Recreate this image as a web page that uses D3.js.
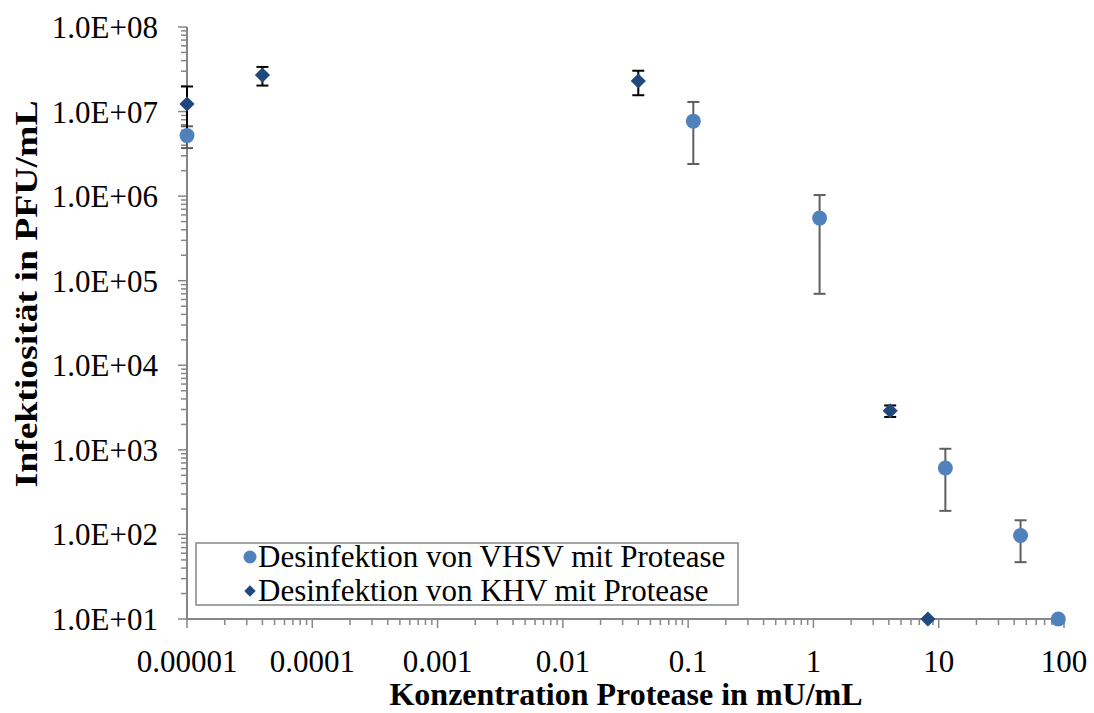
<!DOCTYPE html>
<html><head><meta charset="utf-8">
<script src="https://cdn.jsdelivr.net/npm/d3@7"></script>
<style>body{margin:0;background:#fff}svg{display:block}text{font-family:"Liberation Serif","Times New Roman",serif}</style>
</head><body><svg id="c" width="1094" height="713"></svg>
<script>
const vhsvX = [0.00001, 0.11, 1.12, 11.3, 45, 90];
const vhsvY = [5.2e6, 7.7e6, 5.5e5, 610, 97, 10];
const vhsvErr = [1.5e6, 5.3e6, 4.8e5, 420, 50, 0];
const khvX = [0.00001, 0.00004, 0.04, 4.1, 8.2];
const khvY = [1.23e7, 2.7e7, 2.3e7, 2.9e3, 10];
const khvErr = [7.5e6, 6.7e6, 7.4e6, 450, 0];
const xTicks = [0.00001, 0.0001, 0.001, 0.01, 0.1, 1, 10, 100];
const xTickLabels = ["0.00001", "0.0001", "0.001", "0.01", "0.1", "1", "10", "100"];
const yTicks = [1e1, 1e2, 1e3, 1e4, 1e5, 1e6, 1e7, 1e8];
const yTickLabels = ["1.0E+01", "1.0E+02", "1.0E+03", "1.0E+04", "1.0E+05", "1.0E+06", "1.0E+07", "1.0E+08"];
const seriesNames = ["Desinfektion von VHSV mit Protease", "Desinfektion von KHV mit Protease"];

const svg = d3.select("#c");
const L = 187, R = 1064, T = 27, B = 619;
const x = d3.scaleLog().domain([1e-5, 100]).range([L, R]);
const y = d3.scaleLog().domain([10, 1e8]).range([B, T]);
const axisCol = "#868686";

const minorX = [], minorY = [];
for (let e = -5; e < 2; e++) for (let m = 2; m <= 9; m++) minorX.push(m * Math.pow(10, e));
for (let e = 1; e < 8; e++) for (let m = 2; m <= 9; m++) minorY.push(m * Math.pow(10, e));

const g = svg.append("g");
g.append("line").attr("x1", L).attr("x2", L).attr("y1", T).attr("y2", B).attr("stroke", axisCol).attr("stroke-width", 2);
g.selectAll(".ymin").data(minorY).enter().append("line")
  .attr("x1", L - 6).attr("x2", L).attr("y1", d => y(d)).attr("y2", d => y(d)).attr("stroke", axisCol).attr("stroke-width", 1.5);
g.selectAll(".ymaj").data(yTicks).enter().append("line")
  .attr("x1", L - 9).attr("x2", L).attr("y1", d => y(d)).attr("y2", d => y(d)).attr("stroke", axisCol).attr("stroke-width", 1.5);
g.selectAll(".ylab").data(yTicks).enter().append("text")
  .attr("x", 158).attr("y", d => y(d) + 11).attr("text-anchor", "end").attr("font-size", 31).attr("fill", "#000")
  .text((d, i) => yTickLabels[i]);
g.append("line").attr("x1", L).attr("x2", R).attr("y1", B).attr("y2", B).attr("stroke", axisCol).attr("stroke-width", 2);
g.selectAll(".xmin").data(minorX).enter().append("line")
  .attr("x1", d => x(d)).attr("x2", d => x(d)).attr("y1", B).attr("y2", B + 6).attr("stroke", axisCol).attr("stroke-width", 1.5);
g.selectAll(".xmaj").data(xTicks).enter().append("line")
  .attr("x1", d => x(d)).attr("x2", d => x(d)).attr("y1", B).attr("y2", B + 9).attr("stroke", axisCol).attr("stroke-width", 1.5);
g.selectAll(".xlab").data(xTicks).enter().append("text")
  .attr("x", d => x(d)).attr("y", 672).attr("text-anchor", "middle").attr("font-size", 31).attr("fill", "#000")
  .text((d, i) => xTickLabels[i]);

svg.append("text").attr("x", 626).attr("y", 705).attr("text-anchor", "middle").attr("font-size", 32).attr("font-weight", "bold")
  .text("Konzentration Protease in mU/mL");
svg.append("text").attr("transform", "translate(37,294) rotate(-90)").attr("text-anchor", "middle").attr("font-size", 32).attr("font-weight", "bold")
  .attr("textLength", 387).attr("lengthAdjust", "spacingAndGlyphs")
  .text("Infektiosität in PFU/mL");

function errBars(xs, ys, es, col) {
  const d = xs.map((v, i) => ({x: v, y: ys[i], e: es[i]})).filter(p => p.e > 0);
  const eg = svg.append("g").attr("stroke", col).attr("stroke-width", 2);
  d.forEach(p => {
    const hi = y(p.y + p.e), lo = y(Math.max(p.y - p.e, 1e-3));
    const cx = x(p.x);
    eg.append("line").attr("x1", cx).attr("x2", cx).attr("y1", hi).attr("y2", lo);
    eg.append("line").attr("x1", cx - 6).attr("x2", cx + 6).attr("y1", hi).attr("y2", hi);
    eg.append("line").attr("x1", cx - 6).attr("x2", cx + 6).attr("y1", lo).attr("y2", lo);
  });
}
errBars(vhsvX, vhsvY, vhsvErr, "#5f5f5f");
errBars(khvX, khvY, khvErr, "#000");

const vCol = "#4F81BD", kCol = "#1F497D";
svg.append("g").selectAll("circle").data(vhsvX.map((v, i) => [v, vhsvY[i]])).enter().append("circle")
  .attr("cx", d => x(d[0])).attr("cy", d => y(d[1])).attr("r", 7.5).attr("fill", vCol);
const diamond = d3.symbol().type(d3.symbolSquare).size(115);
svg.append("g").selectAll("path").data(khvX.map((v, i) => [v, khvY[i]])).enter().append("path")
  .attr("d", diamond).attr("transform", d => `translate(${x(d[0])},${y(d[1])}) rotate(45)`).attr("fill", kCol);

const lg = svg.append("g");
lg.append("rect").attr("x", 196).attr("y", 543).attr("width", 542).attr("height", 62).attr("fill", "#fff").attr("stroke", axisCol).attr("stroke-width", 1.5);
lg.append("circle").attr("cx", 250).attr("cy", 557).attr("r", 6.5).attr("fill", vCol);
lg.append("path").attr("d", d3.symbol().type(d3.symbolSquare).size(65)).attr("transform", "translate(250,591) rotate(45)").attr("fill", kCol);
lg.append("text").attr("x", 258).attr("y", 567).attr("font-size", 31).text(seriesNames[0]);
lg.append("text").attr("x", 258).attr("y", 601).attr("font-size", 31).text(seriesNames[1]);
</script></body></html>
